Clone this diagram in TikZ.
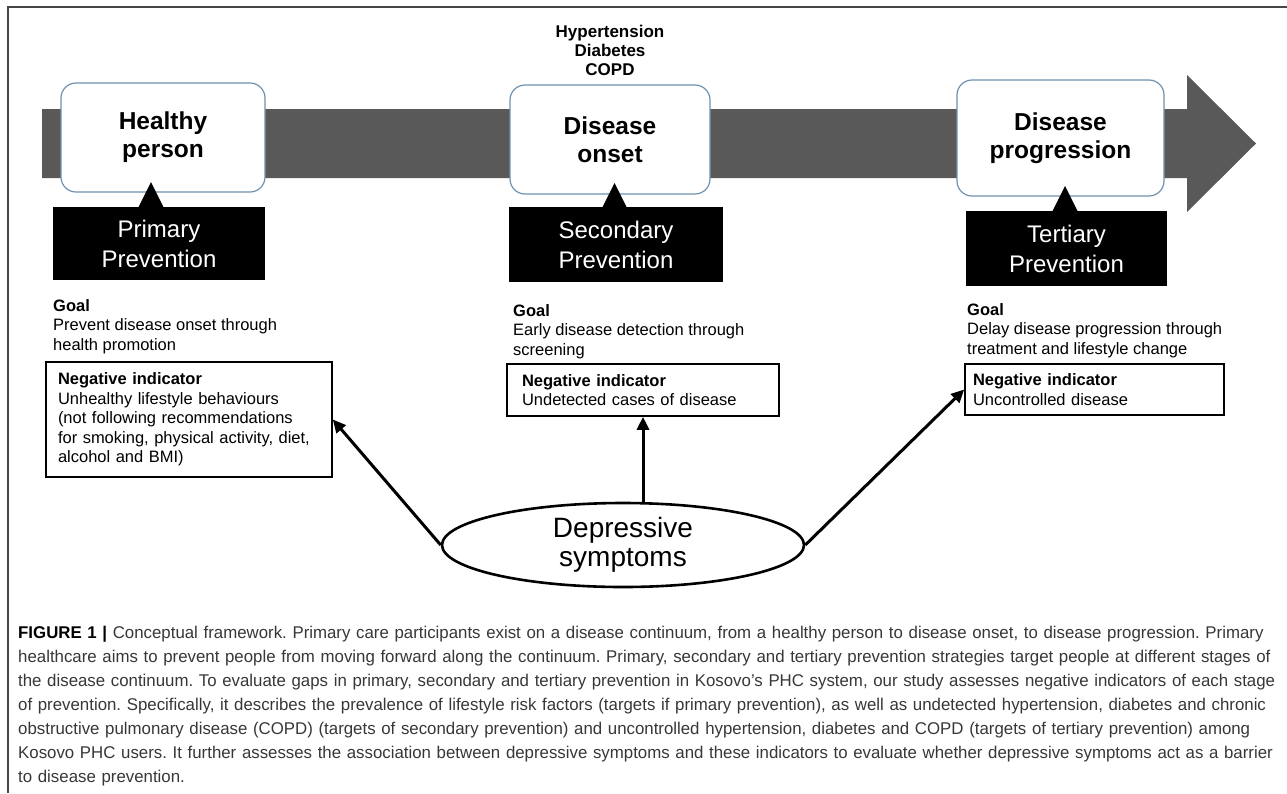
\documentclass[tikz,border=0pt]{standalone}
\usepackage{fontspec}
\setmainfont{Liberation Sans}
\newfontfamily\capfont{Liberation Sans}[FakeStretch=0.99]
\usetikzlibrary{shapes.geometric,arrows.meta}
\definecolor{bandgray}{RGB}{89,89,89}
\definecolor{stageedge}{RGB}{110,145,175}
\definecolor{captext}{RGB}{55,55,55}
\definecolor{framegray}{RGB}{70,70,70}
\frenchspacing
\begin{document}
\begin{tikzpicture}[x=1pt,y=-1pt,
  stage/.style={draw=stageedge, line width=1.2pt, fill=white, rounded corners=15pt,
    font=\fontsize{24.5}{28}\selectfont\bfseries, align=center, inner sep=0pt},
  prevbox/.style={fill=black, text=white, font=\fontsize{24}{30}\selectfont,
    align=center, inner sep=0pt},
  goaltext/.style={anchor=north west, inner sep=0pt, align=left,
    font=\fontsize{16.5}{19.5}\selectfont},
  negbox/.style={draw=black, line width=1.6pt, fill=white, align=left, inner ysep=0pt,
    font=\fontsize{16.5}{19.5}\selectfont},
  link/.style={line width=3pt, -{Triangle[length=13pt,width=12pt]}},
]
\useasboundingbox (0,0) rectangle (1287,793);

% frame edges
\draw[framegray, line width=1.5pt] (8,793) -- (8,7) -- (1287,7);

% continuum arrow
\fill[bandgray] (42,109) -- (1187,109) -- (1187,75) -- (1256,143.5)
  -- (1187,212) -- (1187,178) -- (42,178) -- cycle;

% stages on the continuum
\node[stage, minimum width=204pt, minimum height=109pt] (healthy) at (163,137.5) {Healthy\\person};
\node[stage, minimum width=200pt, minimum height=109pt] (onset) at (610,139.5) {Disease\\onset};
\node[stage, minimum width=207pt, minimum height=116pt] (progr) at (1060.5,138) {Disease\\progression};

\node[anchor=north, align=center, inner sep=0pt, font=\fontsize{17}{19}\selectfont\bfseries]
  (conds) at (610,25) {Hypertension\\Diabetes\\COPD};

% prevention labels with pointers
\node[prevbox, minimum width=212pt, minimum height=73pt] (prim) at (159,243.5) {Primary\\Prevention};
\node[prevbox, minimum width=214pt, minimum height=75pt] (sec) at (616,244.5) {Secondary\\Prevention};
\node[prevbox, minimum width=201pt, minimum height=75pt] (tert) at (1066.5,248.5) {Tertiary\\Prevention};
\fill (138,208) -- (151,182) -- (164,208) -- cycle;
\fill (602,208) -- (614.5,183) -- (627,208) -- cycle;
\fill (1052,212) -- (1065,186) -- (1078,212) -- cycle;

% goals
\node[goaltext] (goal1) at (53,299) {\textbf{Goal}\\Prevent disease onset through\\health promotion};
\node[goaltext] (goal2) at (513,304) {\textbf{Goal}\\Early disease detection through\\screening};
\node[goaltext] (goal3) at (967,303) {\textbf{Goal}\\Delay disease progression through\\treatment and lifestyle change};

% negative indicators
\node[negbox, minimum width=286pt, minimum height=115pt, inner xsep=12pt, text width=262pt] (neg1) at (189,419.5)
  {\textbf{Negative indicator}\\Unhealthy lifestyle behaviours\\(not following recommendations\\\mbox{for smoking, physical activity, diet,}\\alcohol and BMI)};
\node[negbox, minimum width=272pt, minimum height=52pt, inner xsep=15pt, text width=242pt] (neg2) at (643,390)
  {\textbf{Negative indicator}\\Undetected cases of disease};
\node[negbox, minimum width=259pt, minimum height=51pt, inner xsep=8pt, text width=243pt] (neg3) at (1094.5,389.5)
  {\textbf{Negative indicator}\\Uncontrolled disease};

% depressive symptoms
\node[draw, ellipse, line width=2.6pt, fill=white, minimum width=362pt, minimum height=84pt,
  inner sep=0pt, align=center, font=\fontsize{28}{29}\selectfont] (dep) at (623,545) {Depressive\\symptoms};

\draw[link] (dep.west) -- (neg1.east);
\draw[link] (dep.north -| neg2.south) -- (neg2.south);
\draw[link] (dep.east) -- (neg3.west);

% caption, one box per printed line
\node[anchor=north west, inner sep=0pt, text width=1265pt, align=left, text=captext,
  font=\capfont\fontsize{17}{24}\selectfont] (cap) at (18,626)
  {\mbox{{\color{black}\bfseries FIGURE 1 |} Conceptual framework. Primary care participants exist on a disease continuum, from a healthy person to disease onset, to disease progression. Primary}\\
  \mbox{healthcare aims to prevent people from moving forward along the continuum. Primary, secondary and tertiary prevention strategies target people at different stages of}\\
  \mbox{the disease continuum. To evaluate gaps in primary, secondary and tertiary prevention in Kosovo’s PHC system, our study assesses negative indicators of each stage}\\
  \mbox{of prevention. Specifically, it describes the prevalence of lifestyle risk factors (targets if primary prevention), as well as undetected hypertension, diabetes and chronic}\\
  \mbox{obstructive pulmonary disease (COPD) (targets of secondary prevention) and uncontrolled hypertension, diabetes and COPD (targets of tertiary prevention) among}\\
  \mbox{Kosovo PHC users. It further assesses the association between depressive symptoms and these indicators to evaluate whether depressive symptoms act as a barrier}\\
  \mbox{to disease prevention.}};
\end{tikzpicture}
\end{document}
